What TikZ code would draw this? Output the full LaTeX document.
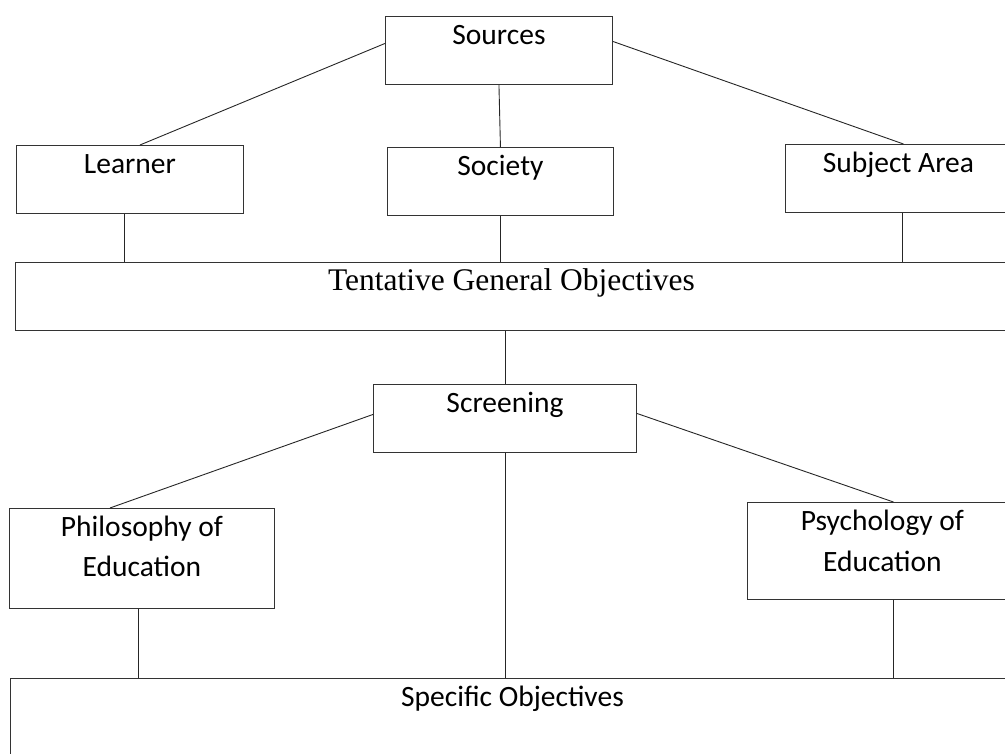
\documentclass[tikz,border=0pt]{standalone}
\usepackage{fontspec}
\setmainfont{Carlito}
\newfontfamily\timesfont{Liberation Serif}
\usetikzlibrary{positioning, calc}
\tikzset{%
	box/.style={draw=black!80, rectangle, line width=0.9pt, inner sep=0pt,%
		text height=28pt, text depth=40pt, anchor=north west,%
		font=\fontsize{29.5}{40.5}\selectfont},
	tentbox/.style={box, font=\timesfont\fontsize{31.5}{36}\selectfont},
	twoline/.style={box, align=center, text height=68.5pt, text depth=31.5pt},
	connector/.style={line width=0.9pt, black!85}
}
\begin{document}
\begin{tikzpicture}[x=1pt, y=-1pt]
	\useasboundingbox (0,0) rectangle (1005,754);
	\clip (0,0) rectangle (1005,754);

	\node[box, minimum width=227pt] (src) at (385,16) {Sources};
	\node[box, minimum width=227pt] (learner) at (16,145) {Learner};
	\node[box, minimum width=226pt] (society) at (387,147) {Society};
	\node[box, minimum width=226pt] (subject) at (785,144) {Subject Area};
	\node[tentbox, minimum width=992pt] (tent) at (15,262) {Tentative General Objectives};
	\node[box, minimum width=263pt] (screen) at (373,384) {Screening};
	\node[twoline, minimum width=265pt] (philo) at (9,508) {Philosophy of\\Education};
	\node[twoline, minimum width=270pt, text height=69pt, text depth=28pt] (psych) at (747,502) {Psychology of\\Education};
	\node[box, minimum width=1004pt, text depth=100pt] (spec) at (10,678) {Specific Objectives};

	\draw[connector] ([yshift=7pt]src.west) to ([xshift=10pt]learner.north);
	\draw[connector] (src.south) to (society.north);
	\draw[connector] ([yshift=9pt]src.east) to ([xshift=5pt]subject.north);
	\draw[connector] ([xshift=-6pt]learner.south) to ([xshift=-6pt]learner.south |- tent.north);
	\draw[connector] (society.south) to (society.south |- tent.north);
	\draw[connector] ([xshift=4pt]subject.south) to ([xshift=4pt]subject.south |- tent.north);
	\draw[connector] (screen.north |- tent.south) to (screen.north);
	\draw[connector] ([yshift=4pt]screen.west) to ([xshift=-32pt]philo.north);
	\draw[connector] ([yshift=5pt]screen.east) to ([xshift=11pt]psych.north);
	\draw[connector] (screen.south) to (screen.south |- spec.north);
	\draw[connector] ([xshift=-4pt]philo.south) to ([xshift=-4pt]philo.south |- spec.north);
	\draw[connector] ([xshift=11pt]psych.south) to ([xshift=11pt]psych.south |- spec.north);
\end{tikzpicture}
\end{document}
